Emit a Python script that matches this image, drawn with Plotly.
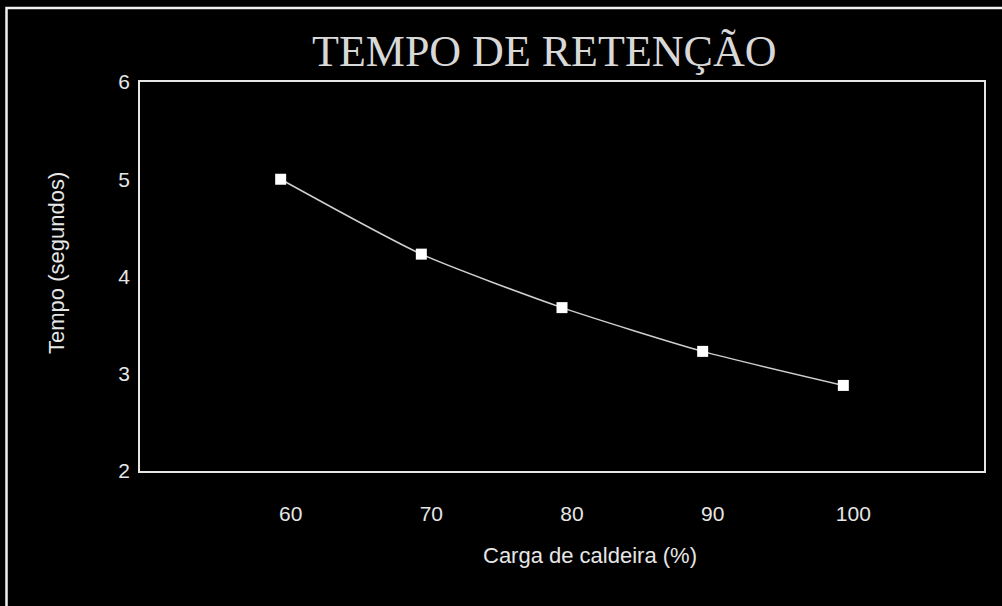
import plotly.graph_objects as go

# Retention time versus boiler load
carga = [60, 70, 80, 90, 100]
tempo = [5.00, 4.23, 3.68, 3.23, 2.88]
x_ticks = [60, 70, 80, 90, 100]
y_ticks = [2, 3, 4, 5, 6]

W, H = 1002, 606
L, R, T, B = 140, 984, 82, 471  # plot area in pixels


def px_x(px):
    return (px - L) / (R - L)


def px_y(py):
    return (B - py) / (B - T)


fg = "#e6e6e6"
sans = "Liberation Sans, Arial, sans-serif"

fig = go.Figure()
fig.add_trace(go.Scatter(
    x=carga, y=tempo, mode="lines+markers",
    line=dict(color="#cfcfcf", width=1.5, shape="spline", smoothing=0.6),
    marker=dict(symbol="square", size=11, color="#ffffff",
                line=dict(width=0)),
    showlegend=False, hoverinfo="x+y",
))

fig.update_layout(
    width=W, height=H, autosize=False,
    margin=dict(l=L, r=W - R, t=T, b=H - B),
    paper_bgcolor="#000000", plot_bgcolor="#000000",
    font=dict(family=sans, color=fg, size=21),
)

fig.update_xaxes(
    range=[50, 110], tickvals=x_ticks, ticktext=[str(v) for v in x_ticks],
    showgrid=False, zeroline=False, showline=True, linecolor=fg,
    linewidth=1.5, mirror=True, ticks="", ticklabelstandoff=23,
    ticklabelshift=10, tickfont=dict(family=sans, size=21, color=fg),
)
fig.update_yaxes(
    range=[2, 6], tickvals=y_ticks, ticktext=[str(v) for v in y_ticks],
    showgrid=False, zeroline=False, showline=True, linecolor=fg,
    linewidth=1.5, mirror=True, ticks="", ticklabelstandoff=4,
    tickfont=dict(family=sans, size=21, color=fg),
)

# Titles
fig.add_annotation(
    text="TEMPO DE RETENÇÃO", xref="paper", yref="paper",
    x=px_x(544), y=px_y(51), xanchor="center", yanchor="middle",
    showarrow=False,
    font=dict(family="Liberation Serif, Times New Roman, serif",
              size=44, color="#d8d8d8"),
)
fig.add_annotation(
    text="Carga de caldeira (%)", xref="paper", yref="paper",
    x=px_x(590), y=px_y(555), xanchor="center", yanchor="middle",
    showarrow=False, font=dict(family=sans, size=22, color=fg),
)
fig.add_annotation(
    text="Tempo (segundos)", xref="paper", yref="paper",
    x=px_x(56), y=px_y(263), xanchor="center", yanchor="middle",
    textangle=-90, showarrow=False,
    font=dict(family=sans, size=22, color=fg),
)

# Outer frame around the chart
fig.add_shape(
    type="rect", xref="paper", yref="paper",
    x0=px_x(6.5), x1=px_x(1020), y0=px_y(640), y1=px_y(8),
    line=dict(color="#f0f0f0", width=2.5), fillcolor="rgba(0,0,0,0)",
    layer="above",
)

fig.write_html("out.html")
